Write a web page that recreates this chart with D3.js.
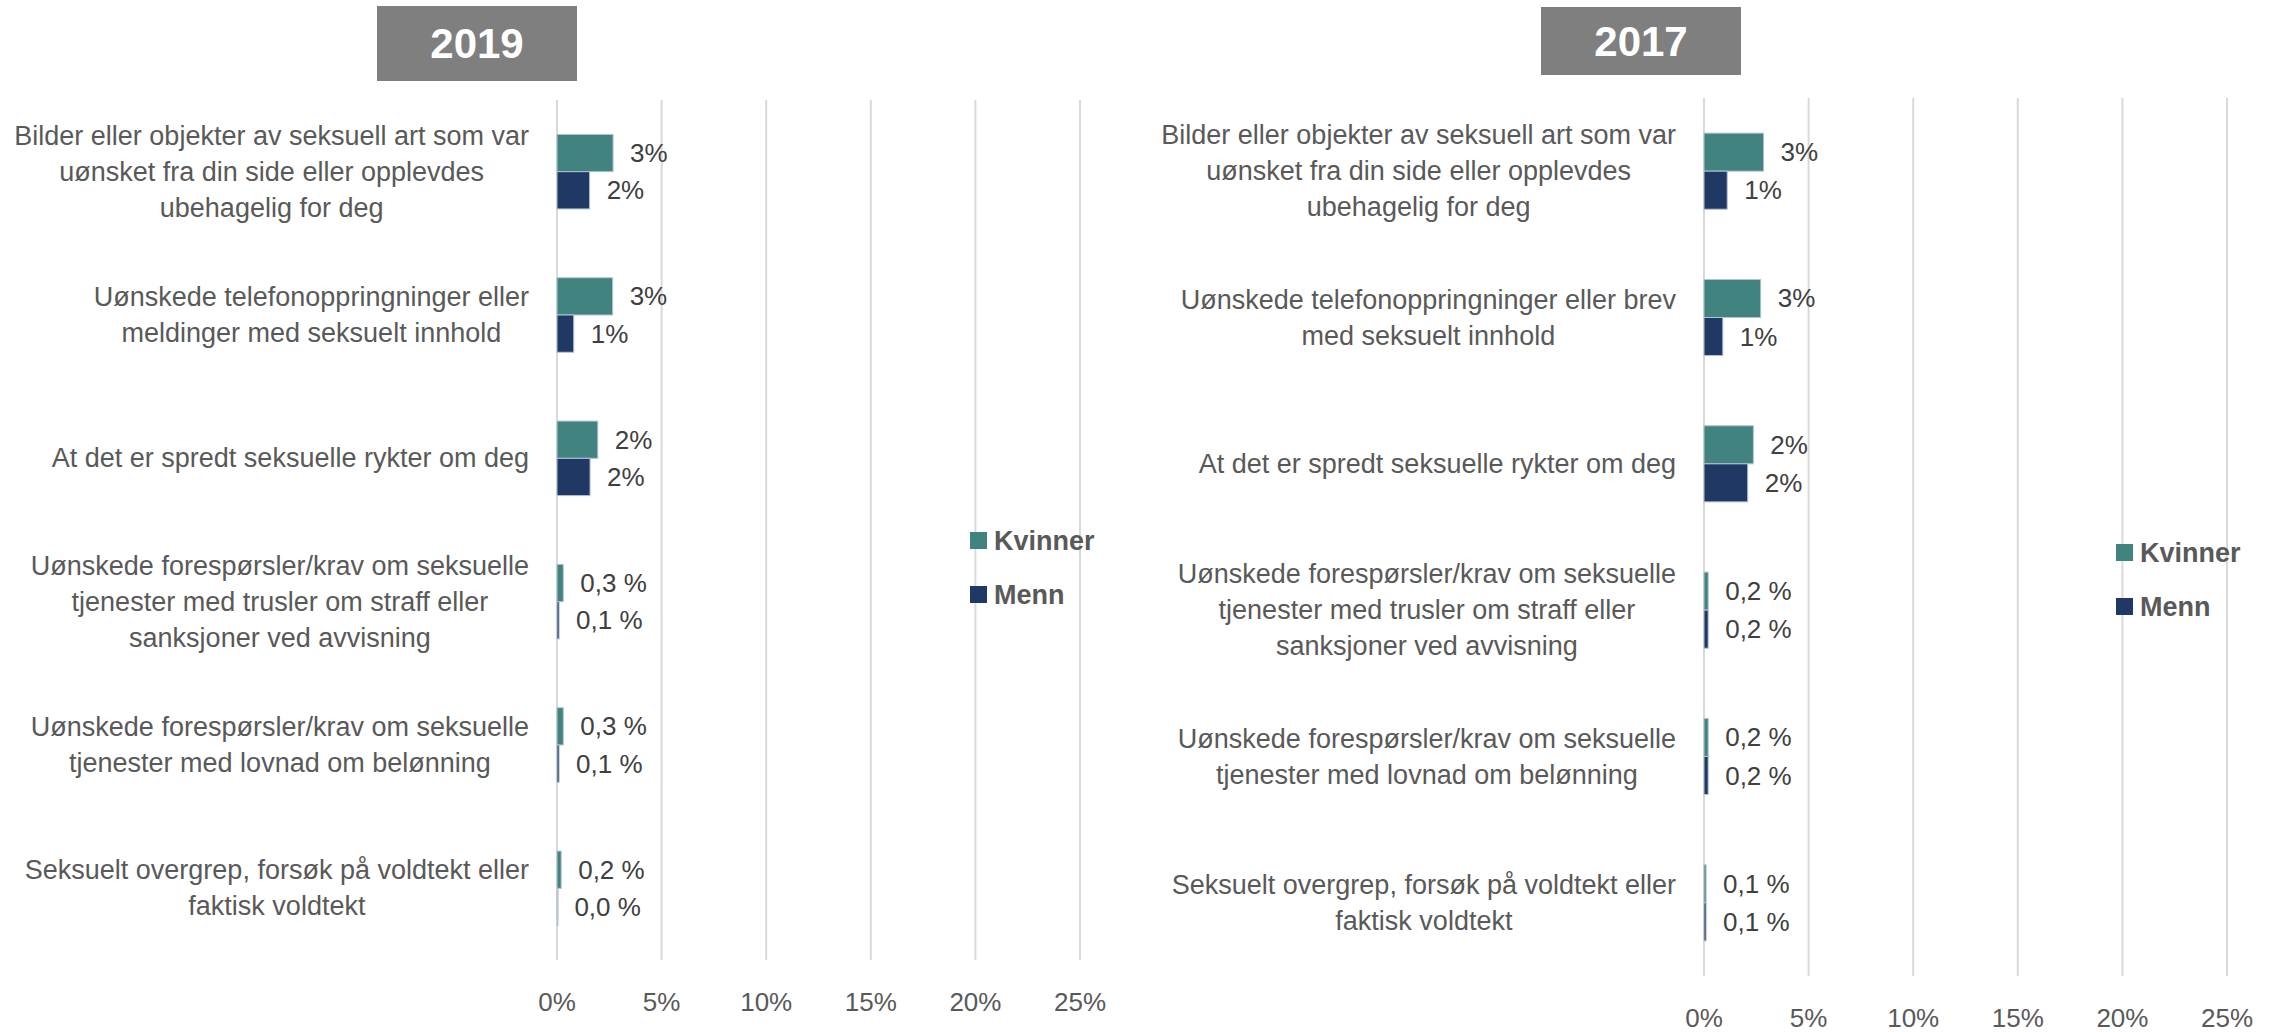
<!DOCTYPE html>
<html>
<head>
<meta charset="utf-8">
<script src="https://cdn.jsdelivr.net/npm/d3@7"></script>
<style>
  html, body { margin: 0; padding: 0; background: #fff; }
  svg text { font-family: "Liberation Sans", Arial, sans-serif; }
</style>
</head>
<body>
<svg id="chart" width="2270" height="1032"></svg>
<script>
// data (percent)
var series = ["Kvinner", "Menn"];
var ticks = [0, 5, 10, 15, 20, 25];

var categories2019 = [
  ["Bilder eller objekter av seksuell art som var", "uønsket fra din side eller opplevdes", "ubehagelig for deg"],
  ["Uønskede telefonoppringninger eller", "meldinger med seksuelt innhold"],
  ["At det er spredt seksuelle rykter om deg"],
  ["Uønskede forespørsler/krav om seksuelle", "tjenester med trusler om straff eller", "sanksjoner ved avvisning"],
  ["Uønskede forespørsler/krav om seksuelle", "tjenester med lovnad om belønning"],
  ["Seksuelt overgrep, forsøk på voldtekt eller", "faktisk voldtekt"]
];
var kvinner2019 = [2.68, 2.66, 1.95, 0.3, 0.3, 0.2];
var menn2019    = [1.56, 0.8, 1.58, 0.1, 0.1, 0.02];

var categories2017 = [
  ["Bilder eller objekter av seksuell art som var", "uønsket fra din side eller opplevdes", "ubehagelig for deg"],
  ["Uønskede telefonoppringninger eller brev", "med seksuelt innhold"],
  ["At det er spredt seksuelle rykter om deg"],
  ["Uønskede forespørsler/krav om seksuelle", "tjenester med trusler om straff eller", "sanksjoner ved avvisning"],
  ["Uønskede forespørsler/krav om seksuelle", "tjenester med lovnad om belønning"],
  ["Seksuelt overgrep, forsøk på voldtekt eller", "faktisk voldtekt"]
];
var kvinner2017 = [2.85, 2.71, 2.36, 0.2, 0.2, 0.1];
var menn2017    = [1.11, 0.9, 2.09, 0.2, 0.2, 0.1];

// label decimals per category (first three rows whole percent, rest one decimal)
var decimals = [0, 0, 0, 1, 1, 1];

var colors = { "Kvinner": "#41847f", "Menn": "#203864" };
var textCol = "#595959";

var svg = d3.select("#chart");

function fmt(v, dec){
  if (dec == 0) return Math.round(v) + "%";
  return v.toFixed(dec).replace(".", ",") + " %";
}

function panel(p){
  var g = svg.append("g");

  var x = d3.scaleLinear().domain([0, 25]).range([p.x0, p.x1]);
  var y = d3.scaleBand().domain(d3.range(p.cats.length)).range([p.top, p.bottom])
      .paddingInner(0.48).paddingOuter(0.24);
  var ys = d3.scaleBand().domain(series).range([0, y.bandwidth()]);

  // title box
  g.append("rect").attr("x", p.titleX).attr("y", p.titleY).attr("width", 200).attr("height", p.titleH)
    .style("fill", "#7f7f7f");
  g.append("text").attr("x", p.titleX + 100).attr("y", p.titleY + p.titleH/2)
    .attr("text-anchor", "middle").attr("dominant-baseline", "central")
    .style("font-size", "42px").style("font-weight", "bold").style("fill", "#fff")
    .text(p.title);

  // grid
  g.selectAll(".grid").data(ticks).enter().append("line")
    .attr("x1", function(d){ return x(d); }).attr("x2", function(d){ return x(d); })
    .attr("y1", p.top).attr("y2", p.bottom)
    .style("stroke", "#d9d9d9").style("stroke-width", "2px");

  // tick labels
  g.selectAll(".tick").data(ticks).enter().append("text")
    .attr("x", function(d){ return x(d); }).attr("y", p.tickY)
    .attr("text-anchor", "middle").attr("dominant-baseline", "central")
    .style("font-size", "26px").style("fill", textCol)
    .text(function(d){ return d + "%"; });

  // bars + value labels
  series.forEach(function(s){
    var vals = s == "Kvinner" ? p.kvinner : p.menn;
    g.selectAll(".bar" + s).data(vals).enter().append("rect")
      .attr("x", x(0))
      .attr("y", function(d, i){ return y(i) + ys(s); })
      .attr("width", function(d){ return Math.max(x(d) - x(0), 1); })
      .attr("height", ys.bandwidth())
      .style("fill", colors[s])
      .style("stroke", "#b4c3cf").style("stroke-width", "1px");

    g.selectAll(".lab" + s).data(vals).enter().append("text")
      .attr("x", function(d){ return x(d) + 17; })
      .attr("y", function(d, i){ return y(i) + ys(s) + ys.bandwidth()/2; })
      .attr("dominant-baseline", "central")
      .style("font-size", "26px").style("fill", "#404040")
      .text(function(d, i){ return fmt(d, decimals[i]); });
  });

  // category labels: lines centred inside a block that is right-aligned to the axis
  var lineH = 36;
  p.cats.forEach(function(lines, i){
    var tg = g.append("g");
    var cy = y(i) + y.bandwidth()/2;
    var ts = tg.selectAll("text").data(lines).enter().append("text")
      .attr("y", function(d, j){ return cy + (j - (lines.length - 1)/2) * lineH; })
      .attr("text-anchor", "middle").attr("dominant-baseline", "central")
      .style("font-size", "27px").style("fill", textCol)
      .text(function(d){ return d; });
    var maxW = d3.max(ts.nodes(), function(n){ return n.getComputedTextLength(); });
    ts.attr("x", p.x0 - 28 - maxW/2);
  });

  // legend
  series.forEach(function(s, i){
    var ly = p.legY + i * 54;
    g.append("rect").attr("x", p.legX).attr("y", ly - 9).attr("width", 17).attr("height", 17)
      .style("fill", colors[s]);
    g.append("text").attr("x", p.legX + 24).attr("y", ly)
      .attr("dominant-baseline", "central")
      .style("font-size", "27px").style("font-weight", "bold").style("fill", textCol)
      .text(s);
  });
}

panel({ title: "2019", titleX: 377, titleY: 6, titleH: 75,
  cats: categories2019, kvinner: kvinner2019, menn: menn2019,
  x0: 557, x1: 1080, top: 100, bottom: 960, tickY: 1002, legX: 970, legY: 541 });

panel({ title: "2017", titleX: 1541, titleY: 7, titleH: 68,
  cats: categories2017, kvinner: kvinner2017, menn: menn2017,
  x0: 1704, x1: 2227, top: 98, bottom: 976, tickY: 1018, legX: 2116, legY: 553 });
</script>
</body>
</html>
